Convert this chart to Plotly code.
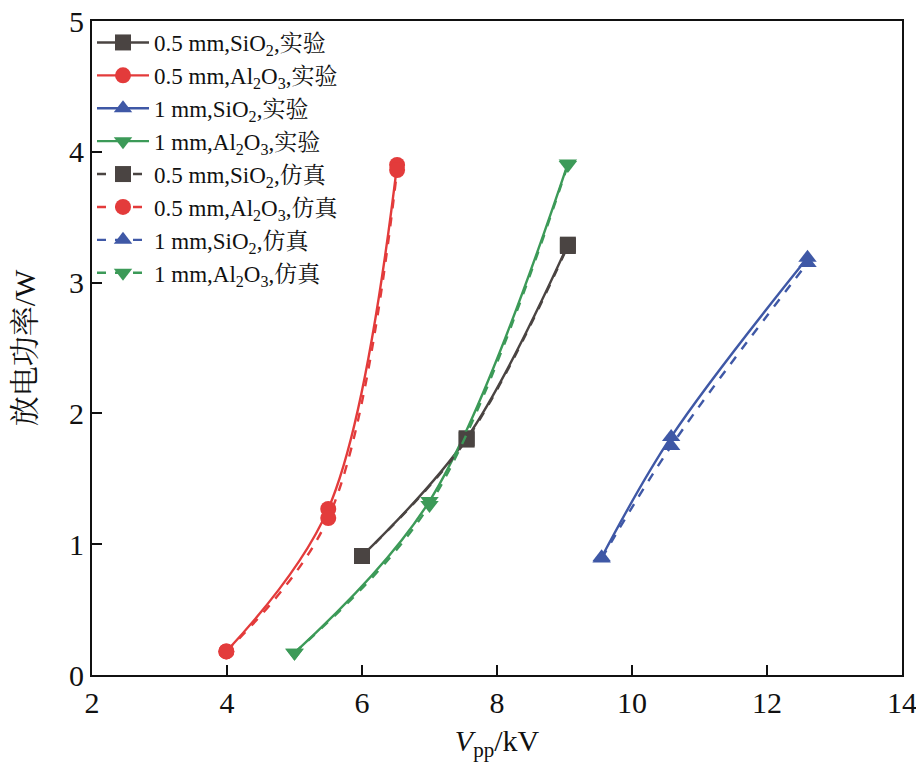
import plotly.graph_objects as go

# Data (Vpp in kV, discharge power in W)
x_sio2_05 = [6.0, 7.55, 9.05]
y_sio2_05_exp = [0.91, 1.81, 3.29]
y_sio2_05_sim = [0.91, 1.80, 3.28]

x_al_05 = [3.99, 5.5, 6.52]
y_al_05_exp = [0.18, 1.27, 3.90]
y_al_05_sim = [0.18, 1.20, 3.86]

x_sio2_1 = [9.55, 10.58, 12.6]
y_sio2_1_exp = [0.90, 1.82, 3.19]
y_sio2_1_sim = [0.89, 1.75, 3.15]

x_al_1 = [5.0, 7.0, 9.05]
y_al_1_exp = [0.17, 1.33, 3.91]
y_al_1_sim = [0.17, 1.30, 3.90]

names_exp = ["0.5 mm,SiO<sub>2</sub>,实验", "0.5 mm,Al<sub>2</sub>O<sub>3</sub>,实验",
             "1 mm,SiO<sub>2</sub>,实验", "1 mm,Al<sub>2</sub>O<sub>3</sub>,实验"]
names_sim = ["0.5 mm,SiO<sub>2</sub>,仿真", "0.5 mm,Al<sub>2</sub>O<sub>3</sub>,仿真",
             "1 mm,SiO<sub>2</sub>,仿真", "1 mm,Al<sub>2</sub>O<sub>3</sub>,仿真"]

colors = ["#4a4442", "#e33b3b", "#3f58a6", "#3c9a58"]
symbols = ["square", "circle", "triangle-up", "triangle-down"]
xs = [x_sio2_05, x_al_05, x_sio2_1, x_al_1]
ys_exp = [y_sio2_05_exp, y_al_05_exp, y_sio2_1_exp, y_al_1_exp]
ys_sim = [y_sio2_05_sim, y_al_05_sim, y_sio2_1_sim, y_al_1_sim]

fig = go.Figure()
for i in range(4):
    fig.add_trace(go.Scatter(
        x=xs[i], y=ys_exp[i], name=names_exp[i], mode="lines+markers",
        line=dict(color=colors[i], width=2.4, shape="spline"),
        marker=dict(symbol=symbols[i], size=16, color=colors[i])))
for i in range(4):
    fig.add_trace(go.Scatter(
        x=xs[i], y=ys_sim[i], name=names_sim[i], mode="lines+markers",
        line=dict(color=colors[i], width=2.4, shape="spline", dash="dash"),
        marker=dict(symbol=symbols[i], size=16, color=colors[i])))

font_fam = "Liberation Serif, Noto Serif CJK SC, Noto Sans CJK SC, serif"

fig.update_layout(
    width=916, height=761,
    margin=dict(l=84, r=22, t=13, b=94),
    plot_bgcolor="white", paper_bgcolor="white",
    font=dict(family=font_fam, size=22, color="#111"),
    showlegend=True,
    legend=dict(x=0.0, y=1.0, xanchor="left", yanchor="top",
                bgcolor="rgba(0,0,0,0)", font=dict(size=23, family=font_fam),
                itemwidth=52, tracegroupgap=0),
    xaxis=dict(range=[2, 14], tickvals=[2, 4, 6, 8, 10, 12, 14],
               automargin=False, ticklabeloverflow="allow",
               showline=True, linecolor="#111", linewidth=2, mirror=True,
               ticks="inside", ticklen=10, tickwidth=2, tickcolor="#111",
               showgrid=False, zeroline=False,
               tickfont=dict(size=30, family=font_fam),
               title=dict(text="<i>V</i><sub>pp</sub>/kV", font=dict(size=30, family=font_fam), standoff=12)),
    yaxis=dict(range=[0, 5], tickvals=[0, 1, 2, 3, 4, 5],
               automargin=False, ticklabeloverflow="allow",
               showline=True, linecolor="#111", linewidth=2, mirror=True,
               ticks="inside", ticklen=10, tickwidth=2, tickcolor="#111",
               showgrid=False, zeroline=False,
               tickfont=dict(size=30, family=font_fam),
               title=dict(text="放电功率/W", font=dict(size=30, family=font_fam), standoff=32)),
)

fig.write_html("out.html")
